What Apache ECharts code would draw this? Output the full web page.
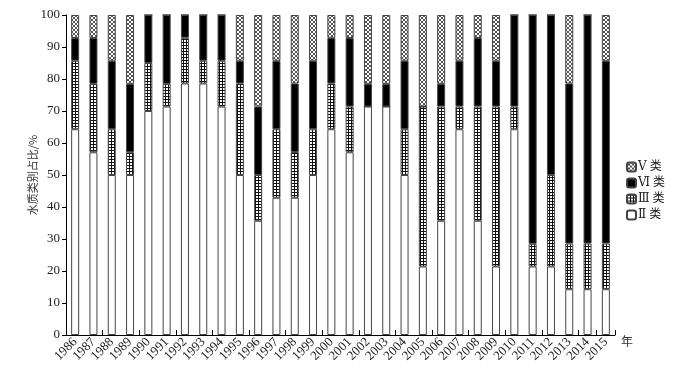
<!DOCTYPE html>
<html>
<head>
<meta charset="utf-8">
<script src="https://cdn.jsdelivr.net/npm/echarts@6/dist/echarts.min.js"></script>
<style>html,body{margin:0;padding:0;background:#fff}#c{width:675px;height:369px}</style>
</head>
<body>
<div id="c"></div>
<script>
var years = ['1986','1987','1988','1989','1990','1991','1992','1993','1994','1995','1996','1997','1998','1999','2000','2001','2002','2003','2004','2005','2006','2007','2008','2009','2010','2011','2012','2013','2014','2015'];
var classII  = [64.3,57.1,50,50,70,71.4,78.6,78.6,71.4,50,35.7,42.9,42.9,50,64.3,57.1,71.4,71.4,50,21.4,35.7,64.3,35.7,21.4,64.3,21.4,21.4,14.3,14.3,14.3];
var classIII = [21.4,21.4,14.3,7.1,15,7.1,14.3,7.1,14.3,28.6,14.3,21.4,14.3,14.3,14.3,14.3,0,0,14.3,50,35.7,7.1,35.7,50,7.1,7.1,28.6,14.3,14.3,14.3];
var classVI  = [7.1,14.3,21.4,21.4,15,21.5,7.1,14.3,14.3,7.1,21.4,21.4,21.4,21.4,14.3,21.4,7.1,7.1,21.4,0,7.1,14.3,21.4,14.3,28.6,71.5,50,50,71.4,57.1];
var classV   = [7.2,7.2,14.3,21.5,0,0,0,0,0,14.3,28.6,14.3,21.4,14.3,7.1,7.2,21.5,21.5,14.3,28.6,21.5,14.3,7.2,14.3,0,0,0,21.4,0,14.3];
var yTicks = [0,10,20,30,40,50,60,70,80,90,100];
var seriesNames = ['Ⅱ 类','Ⅲ 类','Ⅵ 类','Ⅴ 类'];

function makePattern(kind){
  var cv = document.createElement('canvas');
  var s = kind === 'cross' ? 4 : 3;
  cv.width = s; cv.height = s;
  var ctx = cv.getContext('2d');
  ctx.fillStyle = '#fff'; ctx.fillRect(0,0,s,s);
  if (kind === 'cross') {
    ctx.fillStyle = '#555';
    for (var i=0;i<s;i++){ ctx.fillRect(i,i,1,1); ctx.fillRect(s-1-i,i,1,1); }
  } else {
    ctx.fillStyle = '#111';
    ctx.fillRect(0,0,s,1); ctx.fillRect(0,0,1,s);
  }
  return {image: cv, repeat: 'repeat'};
}
var gridPat = makePattern('grid');
var crossPat = makePattern('cross');

var serif = "'Liberation Serif','DejaVu Serif','Noto Sans CJK SC',serif";
function mk(name, data, color){
  return {
    name: name, type: 'bar', stack: 'all', data: data, barWidth: 8,
    itemStyle: {color: color, borderColor: '#444', borderWidth: 1},
    emphasis: {disabled: true}
  };
}
var chart = echarts.init(document.getElementById('c'), null, {renderer: 'canvas'});
chart.setOption({
  animation: false,
  backgroundColor: '#fff',
  grid: {left: 66, right: 60, top: 15, bottom: 34, containLabel: false},
  legend: {
    data: ['Ⅴ 类','Ⅵ 类','Ⅲ 类','Ⅱ 类'],
    orient: 'vertical', left: 621, top: 156,
    itemWidth: 9, itemHeight: 9, itemGap: 4,
    textStyle: {fontFamily: serif, fontSize: 12, color: '#222', padding: [0,0,0,-3]}
  },
  xAxis: {
    type: 'category', data: years,
    name: '年', nameLocation: 'end', nameGap: 6,
    nameTextStyle: {fontFamily: "'Noto Sans CJK SC',sans-serif", fontSize: 12, color: '#333', verticalAlign: 'top', padding: [0,0,0,0]},
    axisLine: {lineStyle: {color: '#000', width: 1}},
    axisTick: {show: true, inside: true, interval: 1, length: 5, lineStyle: {color: '#000'}},
    axisLabel: {interval: 0, rotate: 45, fontFamily: serif, fontSize: 13, color: '#222', margin: 5}
  },
  yAxis: {
    type: 'value', min: yTicks[0], max: yTicks[yTicks.length-1], interval: 10,
    name: '水质类别占比/%', nameLocation: 'middle', nameGap: 33, nameRotate: 90,
    nameMoveOverlap: false,
    nameTextStyle: {fontFamily: "'Noto Sans CJK SC',sans-serif", fontSize: 11, color: '#333', verticalAlign: 'middle'},
    axisLine: {show: true, lineStyle: {color: '#000', width: 1}},
    axisTick: {show: true, length: 4, lineStyle: {color: '#000'}},
    splitLine: {show: false},
    axisLabel: {fontFamily: serif, fontSize: 13, color: '#222', margin: 6}
  },
  series: [
    mk(seriesNames[0], classII, '#fff'),
    mk(seriesNames[1], classIII, gridPat),
    mk(seriesNames[2], classVI, '#000'),
    mk(seriesNames[3], classV, crossPat)
  ]
});
</script>
</body>
</html>
